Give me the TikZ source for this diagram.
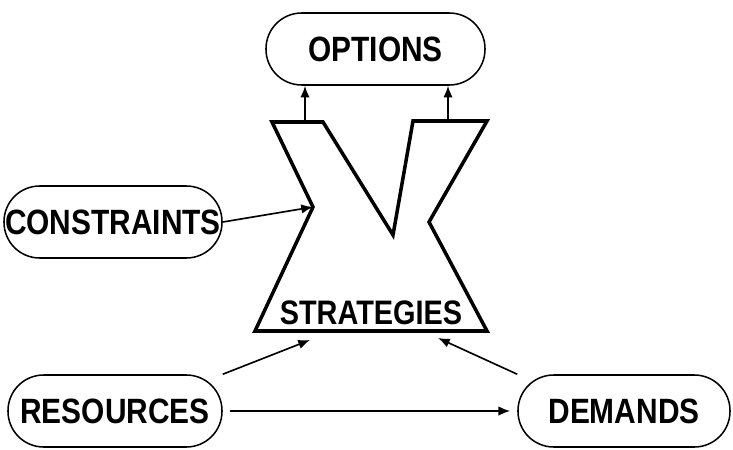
\documentclass[tikz,border=0pt]{standalone}
\usepackage{fontspec}
\newfontfamily\lblfont[FakeStretch=0.85]{Liberation Sans}
\usetikzlibrary{arrows.meta}

\begin{document}
\begin{tikzpicture}[x=0.03cm,y=-0.03cm,
    pill/.style={draw=black,line width=1.3pt,rounded corners=1.07cm,
      minimum width=#1,minimum height=2.16cm,inner sep=0pt,
      font=\lblfont\bfseries\fontsize{30}{30}\selectfont},
    lbl/.style={inner sep=0pt,font=\lblfont\bfseries\fontsize{29}{29}\selectfont},
    arr/.style={line width=1.4pt,-{Latex[length=10pt,width=8pt]}},
    funnel/.style={draw=black,line width=3pt,line join=miter}]
  \useasboundingbox (0,0) rectangle (733,449);

  \node[pill=6.57cm] (Options)     at (375.5, 49) {OPTIONS};
  \node[pill=6.54cm] (Constraints) at (113.0,222) {CONSTRAINTS};
  \node[pill=6.42cm] (Resources)   at (115.0,411) {RESOURCES};
  \node[pill=6.36cm] (Demands)     at (624.0,411) {DEMANDS};

  % strategies funnel
  \coordinate (tlo)   at (272,122);
  \coordinate (tli)   at (323,122);
  \coordinate (vbot)  at (393,235);
  \coordinate (tri)   at (413,121);
  \coordinate (tro)   at (487,121);
  \coordinate (rnot)  at (429,222);
  \coordinate (br)    at (487,331);
  \coordinate (bl)    at (255,331);
  \coordinate (lnot)  at (313,207);
  \draw[funnel] (tlo) -- (tli) -- (vbot) -- (tri) -- (tro) -- (rnot)
        -- (br) -- (bl) -- (lnot) -- cycle;
  \node[lbl] (Strategies) at (371,313) {STRATEGIES};

  \coordinate (upL) at (305,122);
  \coordinate (upR) at (448,121);
  \coordinate (inR) at (310,340);
  \coordinate (inD) at (438,338);

  \draw[arr] (upL) -- (upL |- Options.south);
  \draw[arr] (upR) -- (upR |- Options.south);
  \draw[arr] (Constraints.east) -- (lnot);
  \draw[arr] (Resources.north east) -- (inR);
  \draw[arr] (Demands.north west) -- (inD);
  \draw[arr,shorten <=6pt,shorten >=6pt] (Resources.east) -- (Demands.west);
\end{tikzpicture}
\end{document}
